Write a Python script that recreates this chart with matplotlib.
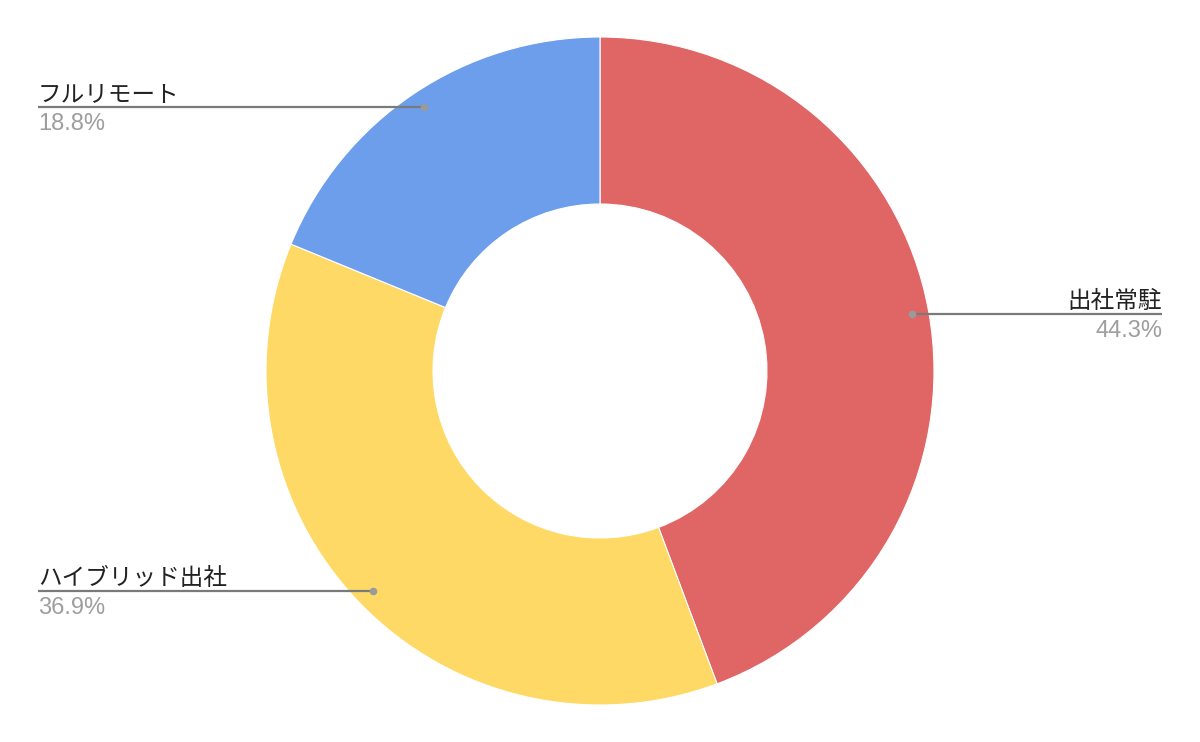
import numpy as np
import matplotlib
matplotlib.use('Agg')
import matplotlib.pyplot as plt

plt.rcParams['font.family'] = ['Liberation Sans', 'Noto Sans CJK JP', 'DejaVu Sans']

# データ
categories = ['出社常駐', 'ハイブリッド出社', 'フルリモート']
shares = [44.3, 36.9, 18.8]
colors = ['#E06666', '#FFD966', '#6D9EEB']

W, H = 1200, 742
fig = plt.figure(figsize=(W / 100, H / 100), dpi=100)
ax = fig.add_axes([0, 0, 1, 1])

cx, cy = 600, H - 371
R = 334
wedges, _ = ax.pie(shares, colors=colors, startangle=90, counterclock=False,
                   center=(cx, cy), radius=R,
                   wedgeprops=dict(width=R - 167, edgecolor='white', linewidth=0.8))
ax.set_xlim(0, W)
ax.set_ylim(0, H)
ax.set_aspect('equal')
ax.axis('off')

# ラベル位置 (画像の y 座標)
label_y = {'出社常駐': 314, 'ハイブリッド出社': 591, 'フルリモート': 107}
right_side = {'出社常駐': True, 'ハイブリッド出社': False, 'フルリモート': False}

for w, cat, val in zip(wedges, categories, shares):
    ang = np.deg2rad((w.theta1 + w.theta2) / 2)
    dx = cx + 0.948 * R * np.cos(ang)
    dy = cy + 0.948 * R * np.sin(ang)
    ly = H - label_y[cat]
    if right_side[cat]:
        x_end, ha = 1162, 'right'
    else:
        x_end, ha = 38, 'left'
    ax.plot([dx, x_end], [ly, ly], color='#7a7a7a', linewidth=1.6, solid_capstyle='butt', zorder=3)
    ax.scatter([dx], [ly], s=30, color='#9a9a9a', zorder=4, linewidths=0)
    ax.text(x_end, ly + 6, cat, ha=ha, va='baseline', fontsize=17, color='#222222')
    ax.text(x_end, ly - 23, f'{val}%', ha=ha, va='baseline', fontsize=17, color='#9e9e9e')

fig.savefig('out.png', dpi=100)
